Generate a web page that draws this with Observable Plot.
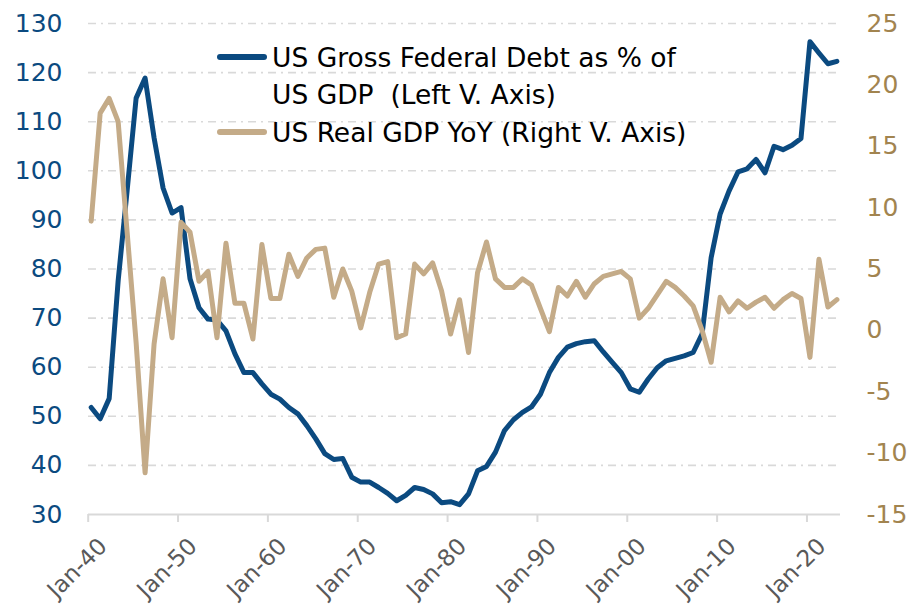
<!DOCTYPE html>
<html>
<head>
<meta charset="utf-8">
<script src="https://cdn.jsdelivr.net/npm/d3@7"></script>
<script src="https://cdn.jsdelivr.net/npm/@observablehq/plot@0.6"></script>
<style>
  body { margin: 0; background: #fff; }
  #wrap { position: relative; width: 911px; height: 605px; overflow: hidden; font-family: "DejaVu Sans", sans-serif; }
  #wrap svg { position: absolute; left: 0; top: 0; }
  .leg { position: absolute; left: 272px; font-size: 26.5px; line-height: 37.5px; color: #000; white-space: pre; }
  .sw { position: absolute; left: 217px; width: 50px; height: 6px; border-radius: 3px; }
</style>
</head>
<body>
<div id="wrap"></div>
<script>
// ---- data ----
const years = d3.range(1940, 2024);
const debtPctGdp = [
  51.8, 49.5, 53.6, 77.6, 96.0, 114.8, 118.9, 106.7, 96.5, 91.4,
  92.5, 78.0, 72.1, 69.8, 69.6, 67.4, 62.7, 58.9, 58.9, 56.6,
  54.5, 53.5, 51.8, 50.5, 48.1, 45.4, 42.4, 41.2, 41.4, 37.6,
  36.6, 36.6, 35.5, 34.3, 32.8, 33.9, 35.5, 35.1, 34.2, 32.4,
  32.6, 32.0, 34.2, 38.9, 39.8, 42.7, 47.1, 49.3, 50.8, 51.9,
  54.5, 58.9, 62.0, 64.1, 64.8, 65.2, 65.4, 63.1, 61.0, 58.9,
  55.6, 54.9, 57.6, 59.9, 61.3, 61.8, 62.3, 63.0, 66.8, 82.3,
  91.2, 95.9, 99.8, 100.4, 102.3, 99.6, 105.0, 104.3, 105.2, 106.6,
  126.3, 124.0, 121.8, 122.3
];
const realGdpYoY = [
  8.9, 17.7, 18.9, 17.0, 8.0, -1.0, -11.6, -1.1, 4.2, -0.6,
  8.8, 8.0, 4.0, 4.8, -0.6, 7.1, 2.2, 2.2, -0.7, 7.0,
  2.6, 2.6, 6.2, 4.4, 5.9, 6.6, 6.7, 2.7, 5.0, 3.2,
  0.2, 3.1, 5.4, 5.6, -0.6, -0.3, 5.4, 4.6, 5.5, 3.2,
  -0.3, 2.5, -1.8, 4.7, 7.2, 4.2, 3.5, 3.5, 4.2, 3.7,
  1.8, -0.1, 3.5, 2.8, 4.0, 2.7, 3.8, 4.4, 4.6, 4.8,
  4.2, 1.0, 1.8, 2.9, 4.0, 3.5, 2.8, 2.0, 0.0, -2.6,
  2.7, 1.5, 2.4, 1.8, 2.3, 2.7, 1.8, 2.5, 3.0, 2.6,
  -2.2, 5.8, 1.9, 2.5
];
const leftTicks = [30, 40, 50, 60, 70, 80, 90, 100, 110, 120, 130];
const rightTicks = [-15, -10, -5, 0, 5, 10, 15, 20, 25];
const decadeTicks = [1940, 1950, 1960, 1970, 1980, 1990, 2000, 2010, 2020];
const decadeLabels = ["Jan-40", "Jan-50", "Jan-60", "Jan-70", "Jan-80", "Jan-90", "Jan-00", "Jan-10", "Jan-20"];
const seriesNames = ["US Gross Federal Debt as % of\nUS GDP  (Left V. Axis)", "US Real GDP YoY (Right V. Axis)"];

// ---- styling ----
const BLUE = "#0b4a80";
const TAN = "#c4ab88";
const GRID = "#d9d9d9";

// map right-axis values onto the left scale ([-15,25] -> [30,130])
const toLeft = g => 30 + (g + 15) * 2.5;
const rows = years.map((year, i) => ({ year, debt: debtPctGdp[i], gdp: toLeft(realGdpYoY[i]) }));
const rightMap = new Map(rightTicks.map(v => [toLeft(v), String(v)]));
const xLabels = decadeTicks.map((year, i) => ({ year, label: decadeLabels[i] }));

const chart = Plot.plot({
  width: 911,
  height: 605,
  marginLeft: 88,
  marginRight: 71,
  marginTop: 23,
  marginBottom: 91,
  x: { type: "linear", domain: [1939.7, 2023.4], label: null },
  y: { domain: [30, 130], label: null },
  style: { fontFamily: "DejaVu Sans, sans-serif", background: "transparent", overflow: "visible" },
  marks: [
    Plot.ruleY(leftTicks.slice(1), { stroke: GRID, strokeWidth: 1.6, strokeDasharray: "8,5,2,5" }),
    Plot.ruleY([30], { stroke: GRID, strokeWidth: 2 }),
    Plot.axisX({ ticks: decadeTicks, tickSize: 8, tickFormat: () => "", stroke: GRID, strokeWidth: 2, dx: -3, label: null }),
    Plot.text(xLabels, {
      x: "year", y: () => 30, text: "label", rotate: -45,
      textAnchor: "end", lineAnchor: "middle", fontSize: 23, fill: "#595959",
      dx: 12, dy: 28
    }),
    Plot.axisY({ ticks: leftTicks, tickSize: 0, tickPadding: 26, fontSize: 25, fill: BLUE, label: null }),
    Plot.axisY({
      anchor: "right", ticks: rightTicks.map(toLeft), tickFormat: d => rightMap.get(d),
      tickSize: 0, tickPadding: 26, fontSize: 25, fill: "#a2844f", textAnchor: "start", label: null
    }),
    Plot.line(rows, { x: "year", y: "debt", stroke: BLUE, strokeWidth: 5, strokeLinejoin: "round", strokeLinecap: "round" }),
    Plot.line(rows, { x: "year", y: "gdp", stroke: TAN, strokeWidth: 5, strokeLinejoin: "round", strokeLinecap: "round" })
  ]
});

const wrap = document.getElementById("wrap");
wrap.appendChild(chart);

// ---- legend ----
const colors = [BLUE, TAN];
const swatchY = [54, 129];
const textTop = [38.5, 113.5];
seriesNames.forEach((name, i) => {
  const sw = document.createElement("div");
  sw.className = "sw";
  sw.style.top = swatchY[i] + "px";
  sw.style.background = colors[i];
  wrap.appendChild(sw);
  const t = document.createElement("div");
  t.className = "leg";
  t.style.top = textTop[i] + "px";
  t.textContent = name;
  wrap.appendChild(t);
});
</script>
</body>
</html>
